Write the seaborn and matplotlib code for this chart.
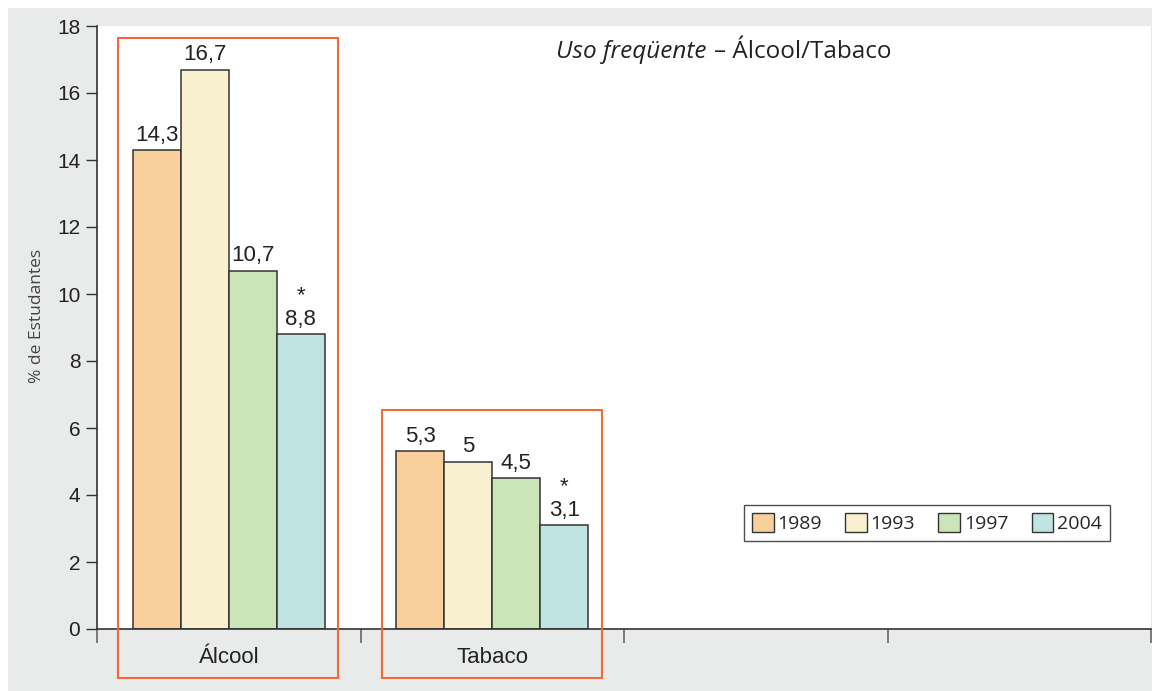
import pandas as pd
import numpy as np
import matplotlib.pyplot as plt
import seaborn as sns
from matplotlib.patches import Rectangle

# Data
substances = ["Álcool", "Tabaco"]
years = ["1989", "1993", "1997", "2004"]
alcool = [14.3, 16.7, 10.7, 8.8]
tabaco = [5.3, 5.0, 4.5, 3.1]
starred = ["2004"]  # values marked with *
colors = ["#f9cf9c", "#f8f0cf", "#cbe4b8", "#c0e4e1"]

df = pd.DataFrame({
    "substance": [substances[0]] * 4 + [substances[1]] * 4,
    "year": years * 2,
    "value": alcool + tabaco,
})

sns.set_style("white")
plt.rcParams['font.family'] = ['Liberation Sans', 'DejaVu Sans']

fig = plt.figure(figsize=(11.61, 6.91), dpi=100, facecolor="white")
# grey panel behind the chart
fig.patches.append(Rectangle((8 / 1161, 0), (1152 - 8) / 1161, (691 - 8) / 691,
                             transform=fig.transFigure, facecolor="#e9eaea",
                             edgecolor="none", zorder=-10))
ax = fig.add_axes([97 / 1161, 62 / 691, (1151 - 97) / 1161, (629 - 26) / 691])
ax.set_zorder(1)
ax.set_facecolor("white")

sns.barplot(data=df, x="substance", y="value", hue="year", order=substances,
            hue_order=years, palette=colors, width=0.73, edgecolor="#333333",
            linewidth=1.1, saturation=1, ax=ax, legend=True)

# bar labels
for year, cont in zip(years, ax.containers):
    labs = []
    for bar in cont:
        v = bar.get_height()
        s = f"{v:g}".replace(".", ",")
        if year in starred:
            s = "*\n" + s
        labs.append(s)
    ax.bar_label(cont, labels=labs, padding=3, fontsize=16, color="#222222",
                 linespacing=1.15)

ax.set_xlim(-0.5, 3.5)
ax.set_ylim(0, 18)
ax.set_yticks(np.arange(0, 19, 2))
ax.tick_params(axis="y", left=True, direction="out", length=8, width=1,
               color="#333333", labelsize=15, labelcolor="#222222", pad=4)
ax.set_xticks([0, 1])
ax.set_xticklabels(substances)
ax.tick_params(axis="x", which="major", bottom=True, length=0, labelsize=16,
               labelcolor="#222222", pad=13)
ax.set_xticks([-0.5, 0.5, 1.5, 2.5, 3.5], minor=True)
ax.tick_params(axis="x", which="minor", bottom=True, direction="out", length=10,
               width=1.2, color="#666666")
ax.set_xlabel("")
ax.set_ylabel("% de Estudantes", fontsize=12.5, color="#444444",
              family=["Open Sans", "DejaVu Sans"])
ax.yaxis.set_label_coords(-(97 - 45) / 1054, (629 - 316) / 603)

for side in ["top", "right"]:
    ax.spines[side].set_visible(False)
for side in ["left", "bottom"]:
    ax.spines[side].set_color("#333333")
    ax.spines[side].set_linewidth(1.2)

# red boxes around groups
red = "#f26a3a"
ax.add_patch(Rectangle((-0.42, -1.46), 0.835, 17.64 + 1.46, fill=False,
                       edgecolor=red, linewidth=1.5, clip_on=False, zorder=5))
ax.add_patch(Rectangle((0.58, -1.46), 0.835, 6.54 + 1.46, fill=False,
                       edgecolor=red, linewidth=1.5, clip_on=False, zorder=5))

# title
fig.text(706 / 1161, 1 - 52 / 691, "Uso freqüente", ha="right", va="center",
         fontsize=17.5, style="italic", family=["Open Sans", "DejaVu Sans"],
         color="#222222", zorder=3)
fig.text(714 / 1161, 1 - 52 / 691, "– Álcool/Tabaco", ha="left", va="center",
         fontsize=17.5, family=["Open Sans", "DejaVu Sans"], color="#222222",
         zorder=3)

# legend
leg = ax.legend(loc="center", bbox_to_anchor=((927 - 97) / 1054, (629 - 523) / 603),
                ncol=4, frameon=True, fancybox=False, edgecolor="#222222",
                handlelength=1.1, handleheight=1.1,
                handletextpad=0.2, columnspacing=1.2, borderpad=0.4,
                prop={"family": ["Open Sans", "DejaVu Sans"], "size": 14})
leg.get_frame().set_linewidth(1.0)
for h in leg.legend_handles:
    h.set_edgecolor("#333333")
    h.set_linewidth(1.0)

fig.savefig("out.png", dpi=100, facecolor=fig.get_facecolor())
